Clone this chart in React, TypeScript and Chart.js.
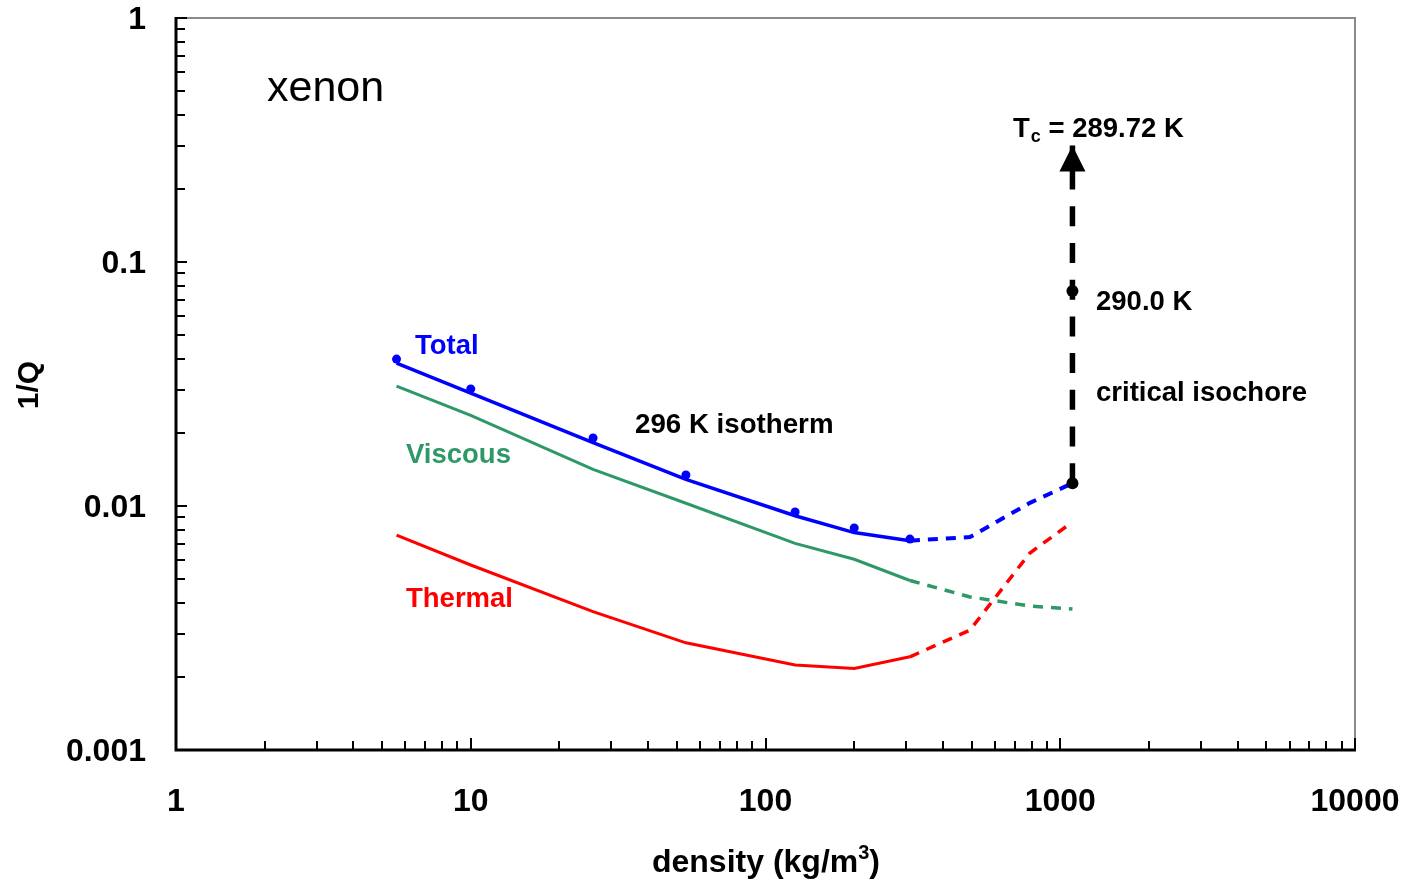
import React, { useEffect, useRef } from 'react';
import { Chart, registerables } from 'chart.js';

Chart.register(...registerables);

// ---- data ----
const densitySolid = [5.6, 10, 26, 53.7, 126, 200, 309];
const totalSolid = [0.0385, 0.029, 0.0182, 0.01286, 0.00912, 0.00778, 0.00721];
const totalPoints = [0.04, 0.0302, 0.019, 0.0134, 0.00945, 0.00813, 0.00732];
const viscousSolid = [0.031, 0.0235, 0.01413, 0.01026, 0.00703, 0.00605, 0.00495];
const thermalSolid = [0.0076, 0.00573, 0.00369, 0.00275, 0.00223, 0.00216, 0.00241];

const densityDashed = [309, 494, 789, 1100];
const totalDashed = [0.00721, 0.00746, 0.0103, 0.0124];
const viscousDashed = [0.00495, 0.00424, 0.00389, 0.00378];
const thermalDashed = [0.00241, 0.0031, 0.00642, 0.0086];

const isochoreDensity = [1100, 1100, 1100];
const isochoreQ = [0.0124, 0.076, 0.3];

const xTickValues = [1, 10, 100, 1000, 10000];
const xTickLabels = ['1', '10', '100', '1000', '10000'];
const yTickValues = [0.001, 0.01, 0.1, 1];
const yTickLabels = ['0.001', '0.01', '0.1', '1'];

const FONT = "'Liberation Sans', Arial, Helvetica, sans-serif";
const BLUE = '#0000ff';
const GREEN = '#2e9966';
const RED = '#ff0000';

const pts = (xs: number[], ys: number[]) => xs.map((x, i) => ({ x, y: ys[i] }));

const labels = [
  { text: 'xenon', x: 267, y: 101, size: 43, bold: false, color: '#000' },
  { text: 'Total', x: 415, y: 354, size: 27.5, bold: true, color: BLUE },
  { text: 'Viscous', x: 406, y: 463, size: 27.5, bold: true, color: GREEN },
  { text: 'Thermal', x: 406, y: 607, size: 27.5, bold: true, color: RED },
  { text: '296 K isotherm', x: 635, y: 433, size: 27.7, bold: true, color: '#000' },
  { text: '290.0 K', x: 1096, y: 310, size: 27.5, bold: true, color: '#000' },
  { text: 'critical isochore', x: 1096, y: 401, size: 27.5, bold: true, color: '#000' },
];

const zeroPad = (s: any) => {
  s.paddingLeft = 0;
  s.paddingRight = 0;
  s.paddingTop = 0;
  s.paddingBottom = 0;
};

const decorPlugin = {
  id: 'decor',
  afterDatasetsDraw(chart: any) {
    const ctx = chart.ctx;
    const meta = chart.getDatasetMeta(0);
    const last = meta.data[meta.data.length - 1];
    if (!last) return;
    ctx.save();
    ctx.fillStyle = '#000';
    ctx.beginPath();
    ctx.moveTo(last.x, last.y);
    ctx.lineTo(last.x - 13, last.y + 26);
    ctx.lineTo(last.x + 13, last.y + 26);
    ctx.closePath();
    ctx.fill();
    ctx.restore();
  },
  afterDraw(chart: any) {
    const ctx = chart.ctx;
    const { left, right, top, bottom } = chart.chartArea;
    const xs = chart.scales.x;
    const ys = chart.scales.y;
    ctx.save();
    // gray top/right frame
    ctx.strokeStyle = '#8a8a8a';
    ctx.lineWidth = 2;
    ctx.beginPath();
    ctx.moveTo(left, top);
    ctx.lineTo(right, top);
    ctx.lineTo(right, bottom);
    ctx.stroke();

    // inward ticks
    ctx.strokeStyle = '#000';
    ctx.lineWidth = 2;
    ctx.beginPath();
    for (let d = 0; d <= 4; d++) {
      for (let m = 1; m <= 9; m++) {
        const v = m * Math.pow(10, d);
        if (v > 10000) break;
        const px = Math.round(xs.getPixelForValue(v));
        const len = m === 1 ? 12 : 9;
        ctx.moveTo(px, bottom);
        ctx.lineTo(px, bottom - len);
      }
    }
    for (let d = -3; d <= 0; d++) {
      for (let m = 1; m <= 9; m++) {
        const v = m * Math.pow(10, d);
        if (v > 1.0000001) break;
        const py = Math.round(ys.getPixelForValue(v));
        const len = m === 1 ? 11 : 9;
        ctx.moveTo(left, py);
        ctx.lineTo(left + len, py);
      }
    }
    ctx.stroke();

    // black axes
    ctx.lineWidth = 3;
    ctx.beginPath();
    ctx.moveTo(left, top - 1);
    ctx.lineTo(left, bottom);
    ctx.lineTo(right + 1, bottom);
    ctx.stroke();

    // annotation texts
    ctx.textBaseline = 'alphabetic';
    ctx.textAlign = 'left';
    for (const l of labels) {
      ctx.font = `${l.bold ? 'bold ' : ''}${l.size}px ${FONT}`;
      ctx.fillStyle = l.color;
      ctx.fillText(l.text, l.x, l.y);
    }
    // T_c label with subscript
    ctx.fillStyle = '#000';
    ctx.font = `bold 27.5px ${FONT}`;
    let tx = 1013;
    ctx.fillText('T', tx, 137);
    tx += ctx.measureText('T').width + 1;
    ctx.font = `bold 18px ${FONT}`;
    ctx.fillText('c', tx, 142);
    tx += ctx.measureText('c').width;
    ctx.font = `bold 27.5px ${FONT}`;
    ctx.fillText(' = 289.72 K', tx, 137);

    // axis titles
    ctx.textAlign = 'left';
    ctx.textBaseline = 'alphabetic';
    ctx.font = `bold 32px ${FONT}`;
    const main = 'density (kg/m';
    const wMain = ctx.measureText(main).width;
    ctx.font = `bold 20px ${FONT}`;
    const wSup = ctx.measureText('3').width;
    ctx.font = `bold 32px ${FONT}`;
    const wClose = ctx.measureText(')').width;
    let ax = 766 - (wMain + wSup + wClose) / 2;
    ctx.fillText(main, ax, 872);
    ax += wMain;
    ctx.font = `bold 20px ${FONT}`;
    ctx.fillText('3', ax, 859);
    ax += wSup;
    ctx.font = `bold 32px ${FONT}`;
    ctx.fillText(')', ax, 872);

    ctx.font = `bold 30px ${FONT}`;
    ctx.textAlign = 'center';
    ctx.textBaseline = 'middle';
    ctx.translate(30, 385);
    ctx.rotate(-Math.PI / 2);
    ctx.fillText('1/Q', 0, 0);
    ctx.restore();
  },
};

export default function App() {
  const ref = useRef<HTMLCanvasElement | null>(null);

  useEffect(() => {
    document.body.style.margin = '0';
    const canvas = ref.current;
    if (!canvas) return;
    const dashed = [10, 8];
    const chart = new Chart(canvas, {
      type: 'scatter',
      data: {
        datasets: [
          {
            label: 'critical isochore',
            data: pts(isochoreDensity, isochoreQ),
            showLine: true,
            borderColor: '#000',
            backgroundColor: '#000',
            borderWidth: 5.5,
            borderDash: [20, 16.7],
            pointRadius: [6, 6, 0],
            pointBorderWidth: 0,
          },
          {
            label: 'Total points',
            data: pts(densitySolid, totalPoints),
            showLine: false,
            backgroundColor: BLUE,
            borderColor: BLUE,
            pointRadius: 4.5,
            pointBorderWidth: 0,
          },
          {
            label: 'Total',
            data: pts(densitySolid, totalSolid),
            showLine: true,
            borderColor: BLUE,
            borderWidth: 3.5,
            pointRadius: 0,
          },
          {
            label: 'Total (dashed)',
            data: pts(densityDashed, totalDashed),
            showLine: true,
            borderColor: BLUE,
            borderWidth: 4,
            borderDash: dashed,
            pointRadius: 0,
          },
          {
            label: 'Viscous',
            data: pts(densitySolid, viscousSolid),
            showLine: true,
            borderColor: GREEN,
            borderWidth: 3,
            pointRadius: 0,
          },
          {
            label: 'Viscous (dashed)',
            data: pts(densityDashed, viscousDashed),
            showLine: true,
            borderColor: GREEN,
            borderWidth: 3.5,
            borderDash: dashed,
            pointRadius: 0,
          },
          {
            label: 'Thermal',
            data: pts(densitySolid, thermalSolid),
            showLine: true,
            borderColor: RED,
            borderWidth: 3,
            pointRadius: 0,
          },
          {
            label: 'Thermal (dashed)',
            data: pts(densityDashed, thermalDashed),
            showLine: true,
            borderColor: RED,
            borderWidth: 3.5,
            borderDash: dashed,
            pointRadius: 0,
          },
        ],
      },
      options: {
        responsive: false,
        animation: false,
        devicePixelRatio: 1,
        layout: { padding: { left: 0, top: 18, right: 53, bottom: 0 } },
        plugins: { legend: { display: false }, tooltip: { enabled: false }, title: { display: false } },
        events: [],
        scales: {
          x: {
            type: 'logarithmic',
            min: 1,
            max: 10000,
            grid: { display: false, drawTicks: false },
            border: { display: false },
            ticks: {
              color: '#000',
              font: { family: FONT, size: 32, weight: 'bold', lineHeight: 1.2 },
              padding: 33,
              maxRotation: 0,
              autoSkip: false,
              callback: (_v: any, i: number) => xTickLabels[i],
            },
            afterBuildTicks: (s: any) => {
              s.ticks = xTickValues.map((v) => ({ value: v }));
            },
            afterFit: (s: any) => {
              s.height = 132;
              zeroPad(s);
            },
          },
          y: {
            type: 'logarithmic',
            min: 0.001,
            max: 1,
            grid: { display: false, drawTicks: false },
            border: { display: false },
            ticks: {
              color: '#000',
              font: { family: FONT, size: 32, weight: 'bold', lineHeight: 1 },
              padding: 30,
              labelOffset: 2,
              autoSkip: false,
              callback: (_v: any, i: number) => yTickLabels[i],
            },
            afterBuildTicks: (s: any) => {
              s.ticks = yTickValues.map((v) => ({ value: v }));
            },
            afterFit: (s: any) => {
              s.width = 176;
              zeroPad(s);
            },
          },
        },
      } as any,
      plugins: [decorPlugin],
    });
    return () => chart.destroy();
  }, []);

  return (
    <div style={{ width: 1408, height: 882, background: '#fff' }}>
      <canvas ref={ref} width={1408} height={882} style={{ display: 'block' }} />
    </div>
  );
}
